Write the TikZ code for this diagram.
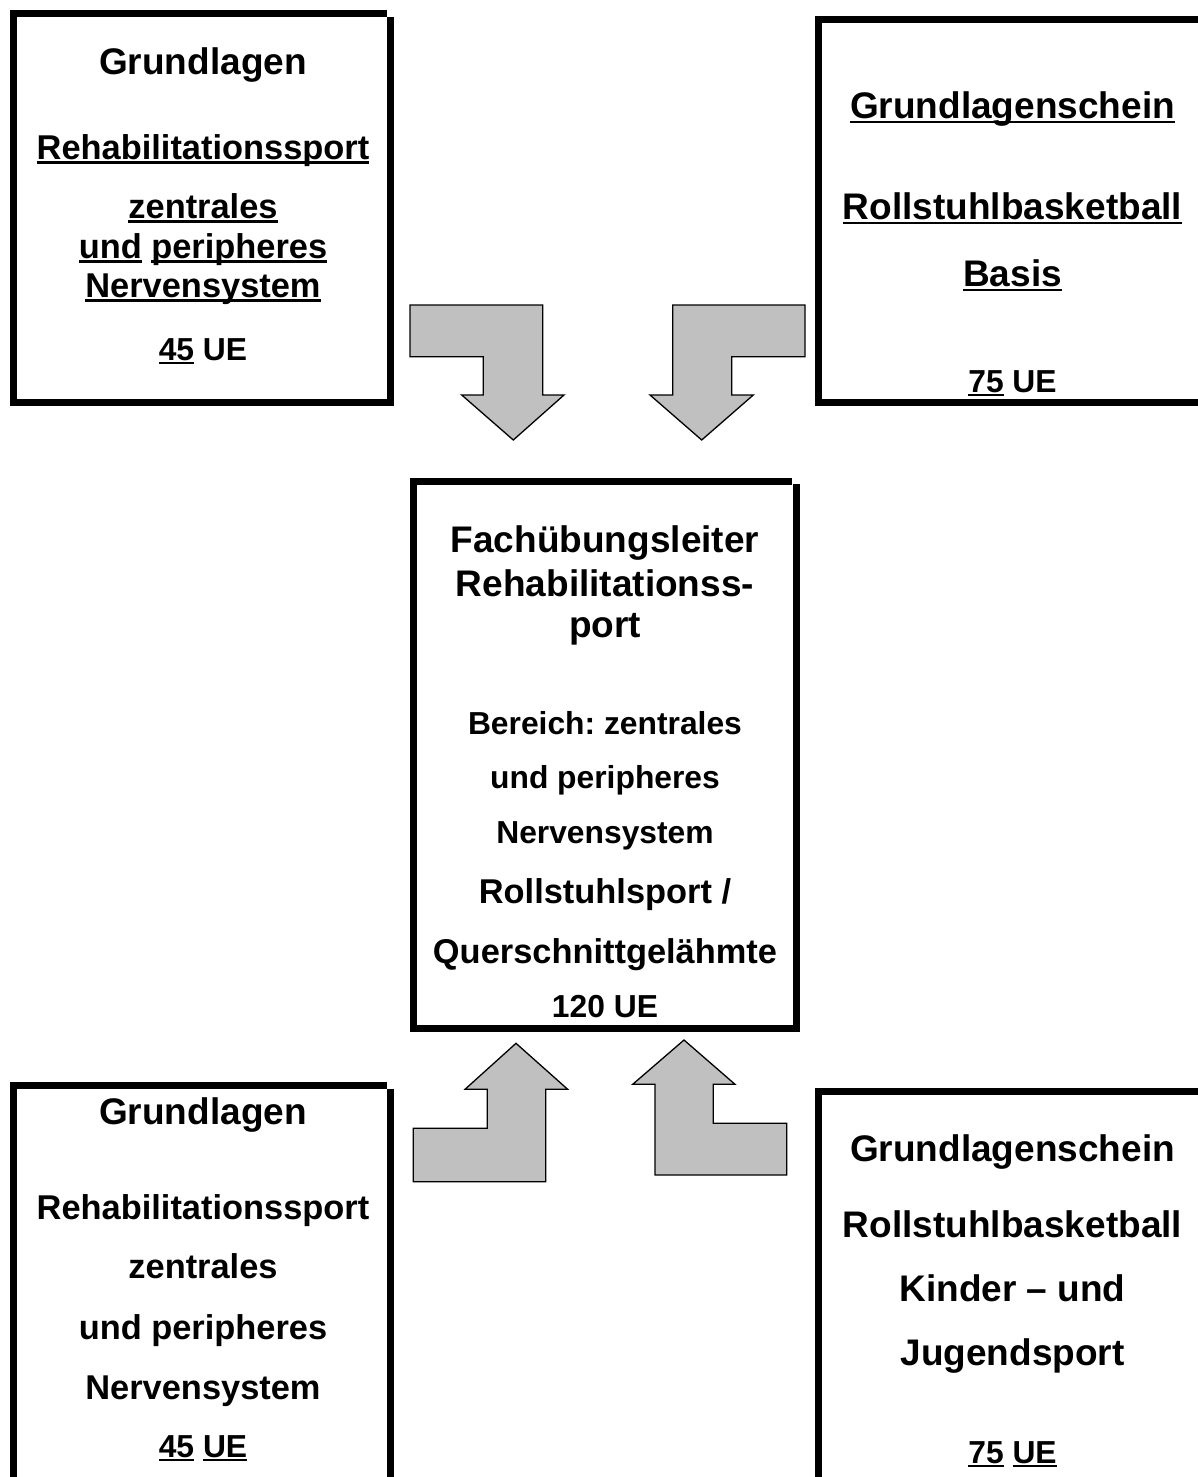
\documentclass[tikz,border=0pt]{standalone}
\usepackage{fontspec}
\setmainfont{Liberation Sans}
\frenchspacing
\newcommand{\ulx}[1]{\setbox0=\hbox{#1}\rlap{\rule[-0.14em]{\wd0}{0.07em}}\box0\relax}
\definecolor{arrowgray}{RGB}{192,192,192}
\begin{document}
\begin{tikzpicture}[x=1pt,y=-1pt,
  frame/.style={line width=7pt,line join=miter,line cap=butt},
  bentarrow/.style={fill=arrowgray,draw=black,line width=1.3pt,line join=miter},
  tx/.style={anchor=base,inner sep=0pt,outer sep=0pt},
  big/.style={tx,font=\fontsize{37}{40}\selectfont\bfseries},
  mid/.style={tx,font=\fontsize{34.4}{38}\selectfont\bfseries},
  sml/.style={tx,font=\fontsize{31.8}{36}\selectfont\bfseries}]
\useasboundingbox (0,0) rectangle (1197,1477);
% boxes
\draw[frame] (387,13.5) -- (13.5,13.5) -- (13.5,402.5) -- (390.5,402.5) -- (390.5,17);
\draw[frame] (1210,20) -- (818.5,20) -- (818.5,402.5) -- (1210,402.5);
\draw[frame] (792,481) -- (413.5,481) -- (413.5,1028.5) -- (796,1028.5) -- (796,484);
\draw[frame] (387,1085) -- (13.5,1085) -- (13.5,1490);
\draw[frame] (390.5,1088.5) -- (390.5,1490);
\draw[frame] (1210,1091.7) -- (818.5,1091.7) -- (818.5,1490);
% arrows
\draw[bentarrow] (410,305) -- (542.7,305) -- (542.7,395) -- (564,395) -- (513.3,440) -- (461.7,395) -- (483.3,395) -- (483.3,356.7) -- (410,356.7) -- cycle;
\draw[bentarrow] (672.7,305) -- (805,305) -- (805,356.7) -- (731.7,356.7) -- (731.7,395) -- (753.3,395) -- (701.7,440) -- (650,395) -- (672.7,395) -- cycle;
\draw[bentarrow] (413.3,1128.3) -- (487.3,1128.3) -- (487.3,1089.3) -- (465,1089.3) -- (516,1043.3) -- (567.7,1089.3) -- (545.7,1089.3) -- (545.7,1181.7) -- (413.3,1181.7) -- cycle;
\draw[bentarrow] (655,1175) -- (655,1084.3) -- (632.7,1084.3) -- (684,1040) -- (735,1084.3) -- (713.3,1084.3) -- (713.3,1123.3) -- (786.7,1123.3) -- (786.7,1175) -- cycle;
% top-left text
\node[big] (a1) at (203,75) {Grundlagen};
\node[mid] (a2) at (203,159) {\ulx{Rehabilitationssport}};
\node[mid] (a3) at (203,218) {\ulx{zentrales}};
\node[mid] (a4) at (203,258) {\ulx{und} \ulx{peripheres}};
\node[mid] (a5) at (203,297) {\ulx{Nervensystem}};
\node[sml] (a6) at (203,360) {\ulx{45} UE};
% top-right text
\node[big] (b1) at (1012.5,118) {\ulx{Grundlagenschein}};
\node[big] (b2) at (1012.5,219) {\ulx{Rollstuhlbasketball}};
\node[big] (b3) at (1012.5,286) {\ulx{Basis}};
\node[sml] (b4) at (1012.5,392) {\ulx{75} UE};
% center text
\node[big] (c1) at (605,552) {Fachübungsleiter};
\node[big] (c2) at (605,596) {Rehabilitationss-};
\node[big] (c3) at (605,637) {port};
\node[sml] (c4) at (605,734) {Bereich: zentrales};
\node[sml] (c5) at (605,788) {und peripheres};
\node[sml] (c6) at (605,843) {Nervensystem};
\node[mid] (c7) at (605,903) {Rollstuhlsport /};
\node[mid] (c8) at (605,963) {Querschnittgelähmte};
\node[sml] (c9) at (605,1017) {120 UE};
% bottom-left text
\node[big] (d1) at (203,1124) {Grundlagen};
\node[mid] (d2) at (203,1219) {Rehabilitationssport};
\node[mid] (d3) at (203,1278) {zentrales};
\node[mid] (d4) at (203,1339) {und peripheres};
\node[mid] (d5) at (203,1399) {Nervensystem};
\node[sml] (d6) at (203,1457) {\ulx{45} \ulx{UE}};
% bottom-right text
\node[big] (e1) at (1012.5,1161) {Grundlagenschein};
\node[big] (e2) at (1012.5,1237) {Rollstuhlbasketball};
\node[big] (e3) at (1012.5,1301) {Kinder – und};
\node[big] (e4) at (1012.5,1365) {Jugendsport};
\node[sml] (e5) at (1012.5,1463) {\ulx{75} \ulx{UE}};
\end{tikzpicture}
\end{document}
